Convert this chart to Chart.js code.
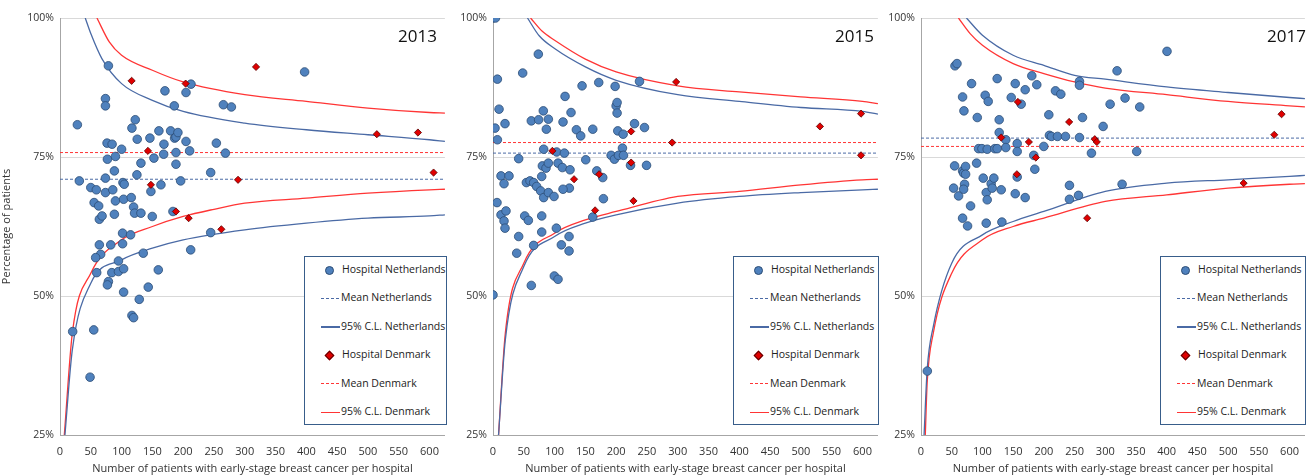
<!DOCTYPE html>
<html>
<head>
<meta charset="utf-8">
<script src="https://cdn.jsdelivr.net/npm/chart.js@4.4.1/dist/chart.umd.min.js"></script>
<style>
  body { margin: 0; background: #fff; font-family: 'Open Sans', sans-serif; }
  .panel { position: absolute; top: 0; height: 475px; }
  .year { position: absolute; top: 24px; font-size: 17px; color: #111; }
  .legend { position: absolute; border: 1px solid #385d8a; background: #fff; box-sizing: border-box; font-size: 10.5px; color: #222; }
  .legend div { position: absolute; left: 0; height: 14px; line-height: 14px; white-space: nowrap; }
  .mk { display: inline-block; vertical-align: middle; }
</style>
</head>
<body>
<div class="panel" id="p1" style="left:0;width:450px"><canvas id="c2013"></canvas></div>
<div class="panel" id="p2" style="left:450px;width:433px"><canvas id="c2015"></canvas></div>
<div class="panel" id="p3" style="left:880px;width:430px"><canvas id="c2017"></canvas></div>
<script>
/* ===== DATA ===== */
const years = ['2013', '2015', '2017'];
const xTicks = [0, 50, 100, 150, 200, 250, 300, 350, 400, 450, 500, 550, 600];
const yTicks = [25, 50, 75, 100];
const legendLabels = ['Hospital Netherlands', 'Mean Netherlands', '95% C.L. Netherlands', 'Hospital Denmark', 'Mean Denmark', '95% C.L. Denmark'];

// [patients, percentage]
const nl2013 = [[20.6,43.6],[28.2,80.8],[31.4,70.7],[48.8,35.4],[54.8,43.9],[59.6,54.2],[50,69.5],[55.4,66.8],[59,69.1],[62.8,66.2],[63.9,63.8],[68.3,64.4],[63.9,59.2],[66,57.5],[57.9,56.9],[78.6,91.4],[73.8,85.5],[73.8,84.2],[76.4,77.5],[84.6,77.3],[77,74.6],[73.8,71.2],[73.8,68.6],[85.7,69.1],[90,75.1],[88.3,72.5],[90,67.1],[88.3,64.7],[82.4,59.2],[84.1,54.2],[78.6,52.6],[77,52],[94.9,56.3],[94.9,54.4],[100,76.4],[102.2,70.4],[104.3,70.1],[103.3,67.4],[101.6,61.3],[101.6,59.4],[103.3,54.9],[103.3,50.7],[116.8,80.2],[122.2,81.7],[125.4,78.2],[124.9,71.8],[115.7,67.7],[119.5,66],[121.1,64.9],[131.4,64.9],[114.6,61],[135.2,57.7],[116.8,46.5],[119.5,46.1],[128.7,49.4],[143.3,51.6],[159.6,54.7],[131.4,73.9],[146,78.4],[152.5,74.8],[147.6,68.8],[149.8,64.3],[160.6,79.7],[168.8,77.3],[168.3,75.5],[163.9,70],[170.4,86.9],[179.6,79.7],[185.6,84.2],[186.1,78.4],[188.3,78.6],[191.5,79.4],[188.3,75.8],[188.3,73.7],[183.4,65.2],[195.9,70.7],[204.6,77.8],[210.5,76.1],[204.6,86.6],[212.7,88.1],[212.2,58.3],[244.7,72.2],[244.7,61.4],[253.9,77.5],[265.3,84.4],[268.6,75.7],[278.3,84],[397.2,90.3]];
const dk2013 = [[116.3,88.7],[142.8,76.1],[147.6,70],[188.3,65.2],[204,88.2],[208.9,64],[262,62],[289.1,70.9],[318.3,91.2],[514.5,79.1],[581.2,79.4],[606.6,72.2]];
const nl2015 = [[0,100],[4,100],[0,50.2],[7.1,89],[9.8,83.6],[3.3,80.2],[19.5,81],[7.1,78.1],[6.5,66.8],[13,71.6],[26,71.6],[17.9,70.2],[13,64.6],[21.1,65.3],[17.9,63.5],[19.5,62.2],[41.7,74.7],[41.7,60.7],[38.5,57.7],[48.2,90.1],[51.5,64.4],[57.4,63.6],[54.2,70.4],[60.1,70.7],[66,70.4],[70.9,69.7],[77.4,68.9],[82.3,67.7],[89.9,68.6],[99.1,67.9],[66,59.1],[62.2,51.9],[62.2,81.5],[74.1,81.7],[73.6,93.5],[81.7,83.3],[89.9,81.8],[86.6,80],[82.3,76.4],[80.2,73.4],[86.1,73],[89.9,73.9],[79.1,71.5],[79.1,64.4],[79.1,61.5],[103.4,75.9],[115.9,75.7],[105.6,73.9],[112.6,73.1],[125.1,72.7],[124,69.4],[113.7,69.2],[102.9,62.2],[99.6,53.6],[105.6,53],[111,59.2],[123.5,58.1],[123.5,60.7],[113.7,81.3],[117,85.9],[126.7,83],[135.4,79.9],[142.4,78.8],[144.6,87.8],[150.6,74.5],[162,80],[162,64.2],[171.7,88.4],[168.5,72.5],[178.2,71.3],[179.3,67.5],[198.3,87.7],[199.9,84.2],[201.5,84.8],[201.5,82.9],[202.6,79.7],[211.3,79.1],[210.2,76.6],[191.8,75.3],[197.2,74.6],[203.7,75.3],[211.9,75.3],[223.3,73.5],[229.8,81],[246,80.3],[237.9,88.6],[249.3,73.5]];
const dk2015 = [[96.4,76.1],[131.6,71],[165.8,65.4],[172.3,71.9],[224.3,79.6],[224.3,74],[228.1,67.1],[290.9,77.6],[297.4,88.5],[530.9,80.5],[597.6,82.8],[597.6,75.3]];
const nl2017 = [[10.3,36.5],[55.3,91.4],[58.6,91.8],[54.7,73.4],[53.1,69.4],[61.2,68],[67.7,85.8],[69.9,83.3],[67.7,72.5],[69.4,72.1],[72.6,73.3],[72.6,71.9],[70.9,70.1],[69.4,69.2],[67.7,64],[75.8,62.6],[80.7,66.2],[82.3,88.2],[90.5,73.9],[91.6,82.1],[93.7,76.5],[99.2,76.5],[107.8,76.4],[101.3,71.2],[106.2,68.6],[107.8,67.3],[106.2,63.1],[104.5,86.1],[109.4,85],[114.2,70.2],[115.9,69.4],[118.6,71.2],[120.2,76.5],[124,76.5],[124,89.1],[127.3,81.7],[127.3,79.4],[138.1,78.1],[138.1,76.7],[130.6,69.1],[131.7,63.3],[146.9,85.7],[153.4,88.2],[156.6,77.4],[156.6,76],[156.6,71.4],[163.1,84.5],[153.4,68.4],[169.6,87.1],[169.6,67.7],[180.4,89.6],[188.5,88],[183.6,75.3],[185.3,72.8],[199.9,76.9],[208.1,82.6],[209.1,78.9],[212.4,78.7],[218.9,86.9],[227.6,86.3],[222.2,78.7],[235.2,78.7],[241.7,69.9],[241.7,67.4],[256.4,68.1],[258,88.6],[258,87.9],[258,78.5],[262.9,82.1],[277.5,75.7],[296.5,80.5],[307.9,84.5],[319.2,90.5],[327.4,70.1],[332.2,85.6],[351.2,76],[356.1,84],[400.5,94]];
const dk2017 = [[130.6,78.5],[157.7,84.9],[156.1,71.9],[175.6,77.7],[187,74.9],[241.2,81.3],[282.9,78.2],[286.2,77.7],[270.5,64],[525.2,70.3],[575.1,79],[587,82.7]];

// means [Netherlands, Denmark]
const mean2013 = [71.0, 75.8];
const mean2015 = [75.7, 77.6];
const mean2017 = [78.4, 76.9];

// 95% control limits
const clNlUp2013 = [[41,100],[50,97.2],[68,92.7],[100,88.2],[150,85.2],[200,83.2],[300,81.1],[400,79.9],[500,79.0],[600,78.1],[625,77.8]];
const clNlLo2013 = [[8,25],[20,40.3],[50,52.3],[100,56.5],[150,58.6],[200,60.1],[300,61.9],[400,63.1],[500,64.0],[600,64.4],[625,64.6]];
const clDkUp2013 = [[60,100],[80,95.7],[100,93.3],[150,90.6],[200,88.5],[300,86.2],[400,85.0],[500,83.8],[600,83.0],[625,82.9]];
const clDkLo2013 = [[7,25],[20,43.3],[50,54.1],[100,60.1],[150,62.5],[200,64.3],[250,65.6],[300,66.7],[400,67.6],[500,68.5],[600,69.1],[625,69.2]];
const clNlUp2015 = [[56,100],[75,96.8],[100,94.5],[150,91.2],[200,88.8],[300,86.2],[400,85.0],[500,83.9],[600,83.2],[625,82.7]];
const clNlLo2015 = [[9,25],[20,42.1],[50,55.3],[100,60.7],[150,63.1],[200,64.6],[300,66.7],[400,67.9],[500,68.6],[600,69.1],[625,69.2]];
const clDkUp2015 = [[61,100],[80,97.6],[100,96.0],[150,92.6],[200,90.3],[300,87.8],[400,86.7],[500,85.8],[600,85.0],[625,84.6]];
const clDkLo2015 = [[9,25],[20,43.3],[50,55.9],[100,61.3],[150,63.7],[200,65.2],[300,67.9],[400,68.8],[500,70.0],[600,70.9],[625,71.0]];
const clNlUp2017 = [[74,100],[100,96.9],[150,93.3],[200,91.5],[250,89.7],[300,89.0],[400,87.6],[500,86.6],[600,85.7],[625,85.5]];
const clNlLo2017 = [[5,25],[10,36.7],[20,44.5],[50,55.9],[100,61.0],[150,63.4],[200,65.2],[300,68.8],[400,70.3],[500,70.9],[600,71.5],[625,71.7]];
const clDkUp2017 = [[61,100],[80,97.2],[100,95.1],[150,91.8],[200,90.0],[250,88.5],[300,87.4],[400,86.2],[500,85.0],[600,84.2],[625,84.0]];
const clDkLo2017 = [[7,25],[10,34.3],[20,43.3],[50,54.1],[100,60.1],[150,62.5],[200,64.0],[300,67.0],[400,68.2],[500,69.4],[600,70.1],[625,70.2]];

/* ===== STYLE ===== */
const BLUE_PT = '#4f81bd', BLUE_PT_BORDER = '#2c4d75';
const RED_PT = '#e00000', RED_PT_BORDER = '#5a0000';
const BLUE_LINE = '#4a6aa5', RED_LINE = '#ff3535';
const FONT = 'Open Sans';

const toXY = arr => arr.map(p => ({ x: p[0], y: p[1] }));

function curve(data, color) {
  return { type: 'line', data: toXY(data), borderColor: color, borderWidth: 1.3, pointRadius: 0,
           cubicInterpolationMode: 'monotone', fill: false, order: 3 };
}
function meanLine(v, color) {
  return { type: 'line', data: [{ x: 0, y: v }, { x: 625, y: v }], borderColor: color, borderWidth: 1,
           borderDash: [3, 2], pointRadius: 0, fill: false, order: 3 };
}

function makePanel(id, nl, dk, means, curves, yWidth, showYTitle) {
  const canvas = document.getElementById(id);
  const box = canvas.parentElement;
  canvas.width = box.offsetWidth; canvas.height = 475;
  canvas.style.width = box.offsetWidth + 'px'; canvas.style.height = '475px';

  return new Chart(canvas, {
    type: 'scatter',
    data: {
      datasets: [
        meanLine(means[0], BLUE_LINE),
        meanLine(means[1], RED_LINE),
        curve(curves[0], BLUE_LINE), curve(curves[1], BLUE_LINE),
        curve(curves[2], RED_LINE), curve(curves[3], RED_LINE),
        { data: toXY(nl), backgroundColor: BLUE_PT, borderColor: BLUE_PT_BORDER, borderWidth: 0.8,
          pointRadius: 4.3, order: 2 },
        { data: toXY(dk), pointStyle: 'rectRot', backgroundColor: RED_PT, borderColor: RED_PT_BORDER,
          borderWidth: 0.8, pointRadius: 3.6, order: 1 },
      ],
    },
    options: {
      responsive: false,
      animation: false,
      layout: { padding: { top: 18, right: 5, left: 0, bottom: 0 } },
      plugins: { legend: { display: false }, tooltip: { enabled: false } },
      scales: {
        x: {
          type: 'linear', min: 0, max: 625,
          afterBuildTicks: s => { s.ticks = xTicks.map(v => ({ value: v })); },
          afterFit: s => { s.height = 40; },
          grid: { display: false, drawTicks: false },
          border: { color: '#a6a6a6' },
          ticks: { color: '#333', font: { family: FONT, size: 11 }, padding: 10 },
          title: { display: true, text: 'Number of patients with early-stage breast cancer per hospital',
                   color: '#333', font: { family: FONT, size: 11 }, padding: { top: 0, bottom: 0 } },
        },
        y: {
          min: 25, max: 100,
          afterBuildTicks: s => { s.ticks = yTicks.map(v => ({ value: v })); },
          afterFit: s => { s.width = yWidth; },
          grid: { color: '#d9d9d9', drawTicks: false },
          border: { color: '#a6a6a6' },
          ticks: { color: '#333', font: { family: FONT, size: 10.5 }, padding: 6, callback: v => v + '%' },
          title: { display: showYTitle, text: 'Percentage of patients', color: '#333',
                   font: { family: FONT, size: 11 }, padding: { top: 0, bottom: 4 } },
        },
      },
    },
  });
}

function dashed(color) {
  return '<span class="mk" style="width:19px;height:1px;margin-left:16px;margin-right:1px;background:repeating-linear-gradient(90deg,' +
    color + ' 0 3px,transparent 3px 5px)"></span>';
}

function addOverlay(panelId, year, yearLeft, legLeft, legWidth) {
  const box = document.getElementById(panelId);
  const y = document.createElement('div');
  y.className = 'year'; y.textContent = year; y.style.left = yearLeft + 'px';
  box.appendChild(y);

  const leg = document.createElement('div');
  leg.className = 'legend';
  leg.style.left = legLeft + 'px'; leg.style.top = '256px';
  leg.style.width = legWidth + 'px'; leg.style.height = '169px';
  const markers = [
    '<span class="mk" style="width:7px;height:7px;border-radius:50%;background:' + BLUE_PT + ';border:0.8px solid ' + BLUE_PT_BORDER + ';margin-left:20px;margin-right:8px"></span>',
    dashed(BLUE_LINE),
    '<span class="mk" style="width:19px;height:1.3px;background:' + BLUE_LINE + ';margin-left:16px;margin-right:1px"></span>',
    '<span class="mk" style="width:5px;height:5px;transform:rotate(45deg);background:' + RED_PT + ';border:0.8px solid ' + RED_PT_BORDER + ';margin-left:21px;margin-right:9px"></span>',
    dashed(RED_LINE),
    '<span class="mk" style="width:19px;height:1.3px;background:' + RED_LINE + ';margin-left:16px;margin-right:1px"></span>',
  ];
  legendLabels.forEach((lab, i) => {
    const row = document.createElement('div');
    row.style.top = (5 + i * 28.4) + 'px';
    row.innerHTML = markers[i] + '<span>' + lab + '</span>';
    leg.appendChild(row);
  });
  box.appendChild(leg);
}

makePanel('c2013', nl2013, dk2013, mean2013, [clNlUp2013, clNlLo2013, clDkUp2013, clDkLo2013], 60, true);
makePanel('c2015', nl2015, dk2015, mean2015, [clNlUp2015, clNlLo2015, clDkUp2015, clDkLo2015], 43, false);
makePanel('c2017', nl2017, dk2017, mean2017, [clNlUp2017, clNlLo2017, clDkUp2017, clDkLo2017], 41, false);

addOverlay('p1', years[0], 398, 304, 143);
addOverlay('p2', years[1], 385, 283, 146);
addOverlay('p3', years[2], 387, 280, 146);
</script>
</body>
</html>
